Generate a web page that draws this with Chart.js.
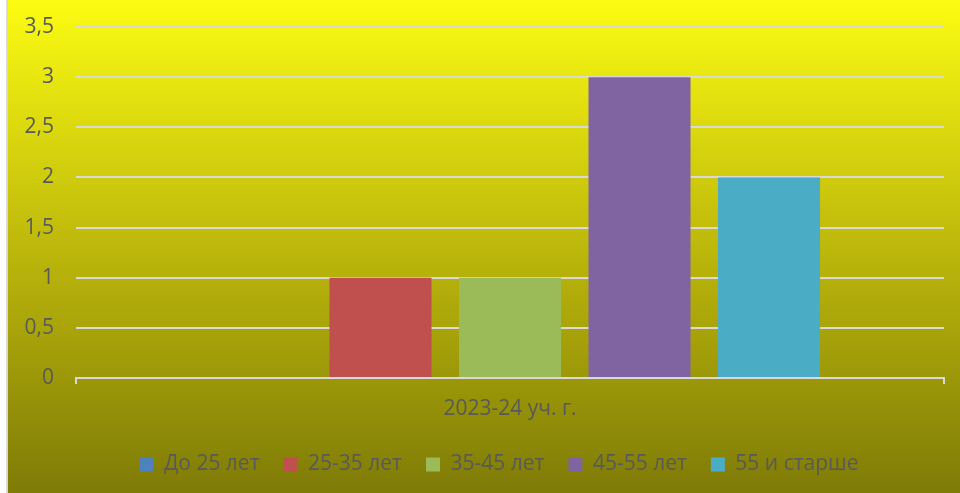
<!DOCTYPE html>
<html>
<head>
<meta charset="utf-8">
<script src="https://cdn.jsdelivr.net/npm/chart.js@4"></script>
<style>
html,body{margin:0;padding:0;background:#fff;}
#wrap{position:absolute;left:0;top:0;width:960px;height:493px;}
</style>
</head>
<body>
<div id="wrap"><canvas id="c" width="960" height="493"></canvas></div>
<script>
const categories = ["2023-24 уч. г."];
const seriesNames = ["До 25 лет", "25-35 лет", "35-45 лет", "45-55 лет", "55 и старше"];
const seriesValues = [[0], [1], [1], [3], [2]];
const seriesColors = ["#4F81BD", "#C0504D", "#9BBB59", "#8064A2", "#4BACC6"];
const yTicks = [0, 0.5, 1, 1.5, 2, 2.5, 3, 3.5];

const bgPlugin = {
  id: 'bg',
  beforeDraw(chart) {
    const ctx = chart.ctx;
    const w = chart.width, h = chart.height;
    ctx.save();
    const g = ctx.createLinearGradient(0, 0, 0, h);
    g.addColorStop(0, '#fcfc12');
    g.addColorStop(0.5, '#bdb80b');
    g.addColorStop(1, '#7f7b07');
    ctx.fillStyle = g;
    ctx.fillRect(8, 0, w - 8, h);
    ctx.fillStyle = '#d9d9d9';
    ctx.fillRect(6, 0, 2, h);
    ctx.restore();
  }
};

const legendShift = {
  id: 'legendShift',
  afterLayout(chart) {
    if (chart.legend) { chart.legend.left += 27; chart.legend.right += 27; }
  }
};

const font = "'Open Sans', 'Noto Sans', sans-serif";

new Chart(document.getElementById('c'), {
  type: 'bar',
  data: {
    labels: categories,
    datasets: seriesNames.map((n, i) => ({
      label: n,
      data: seriesValues[i],
      backgroundColor: seriesColors[i],
      borderWidth: 0,
      categoryPercentage: 0.746,
      barPercentage: 0.788
    }))
  },
  options: {
    responsive: false,
    animation: false,
    layout: { padding: { left: 0, right: 16, top: 27, bottom: 8 } },
    plugins: {
      legend: {
        position: 'bottom',
        labels: {
          boxWidth: 14, boxHeight: 14, padding: 24,
          color: '#595959',
          font: { family: font, size: 21 }
        }
      },
      tooltip: { enabled: false }
    },
    scales: {
      x: {
        grid: { display: true, drawOnChartArea: false, drawTicks: true, tickLength: 6, color: '#d9d9d9', lineWidth: 2, offset: true },
        border: { display: true, color: '#d9d9d9', width: 2 },
        ticks: { color: '#595959', font: { family: font, size: 21 }, padding: 12 },
        afterFit(s) { s.height = 52; s.paddingLeft = 0; s.paddingRight = 0; }
      },
      y: {
        min: 0, max: 3.5,
        afterBuildTicks(s) { s.ticks = yTicks.map(v => ({ value: v })); },
        grid: { color: '#d9d9d9', lineWidth: 2, drawTicks: false },
        border: { display: false },
        ticks: {
          color: '#595959', font: { family: font, size: 21 }, padding: 22,
          callback: v => String(v).replace('.', ',')
        },
        afterFit(s) { s.width = 76; s.paddingTop = 0; s.paddingBottom = 0; }
      }
    }
  },
  plugins: [bgPlugin, legendShift]
});
</script>
</body>
</html>
